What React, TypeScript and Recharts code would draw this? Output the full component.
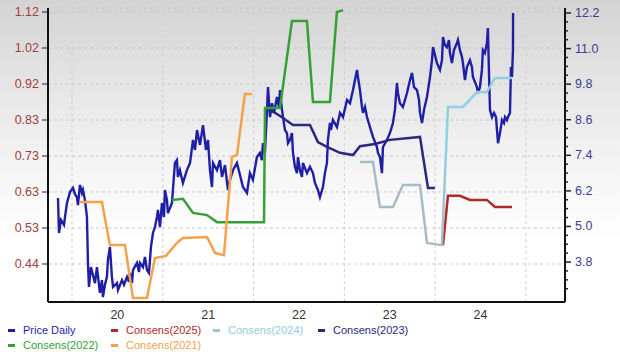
import { ComposedChart, Line, XAxis, YAxis, CartesianGrid, ReferenceLine } from "recharts";

// x axis: decimal years, labels centred inside each year
const years = [2020, 2021, 2022, 2023, 2024];
const yearLabels = ["20", "21", "22", "23", "24"];
const yearBounds = [2020, 2021, 2022, 2023, 2024, 2025];

// left axis (consensus EPS) and right axis (price)
const epsTickLabels = ["0.44", "0.53", "0.63", "0.73", "0.83", "0.92", "1.02", "1.12"];
const priceMajorTicks = [3.8, 5.0, 6.2, 7.4, 8.6, 9.8, 11.0, 12.2];

// [decimal year, price]
const priceDaily: [number, number][] = [
  [2019.846, 5.96], [2019.857, 4.78], [2019.879, 5.22], [2019.912, 5.05], [2019.934, 5.56], [2019.945, 5.79],
  [2019.978, 6.16], [2020.011, 6.3], [2020.033, 6.09], [2020.055, 5.99], [2020.066, 5.72], [2020.088, 6.4],
  [2020.11, 6.13], [2020.121, 6.23], [2020.143, 5.89], [2020.165, 5.32], [2020.176, 3.77], [2020.187, 2.96],
  [2020.209, 3.63], [2020.231, 3.36], [2020.253, 3.09], [2020.275, 3.63], [2020.308, 2.76], [2020.33, 3.19],
  [2020.341, 2.62], [2020.363, 3.03], [2020.385, 3.3], [2020.396, 3.87], [2020.418, 4.31], [2020.44, 3.3],
  [2020.452, 2.96], [2020.496, 3.09], [2020.507, 2.86], [2020.551, 3.19], [2020.573, 3.03], [2020.606, 3.3],
  [2020.628, 3.13], [2020.639, 3.43], [2020.661, 3.09], [2020.672, 3.53], [2020.716, 3.77], [2020.738, 3.46],
  [2020.749, 3.77], [2020.782, 3.63], [2020.804, 3.97], [2020.826, 3.53], [2020.848, 3.43], [2020.87, 4.31],
  [2020.892, 4.78], [2020.914, 4.98], [2020.936, 5.32], [2020.947, 5.56], [2020.969, 4.98], [2020.991, 5.79],
  [2021.013, 5.32], [2021.024, 6.23], [2021.046, 5.89], [2021.057, 5.45], [2021.101, 5.79], [2021.112, 6.23],
  [2021.134, 7.14], [2021.156, 7.24], [2021.167, 6.67], [2021.189, 6.9], [2021.222, 6.47], [2021.266, 6.9],
  [2021.3, 7.14], [2021.333, 7.92], [2021.355, 7.58], [2021.377, 8.25], [2021.41, 7.75], [2021.443, 8.42],
  [2021.476, 7.58], [2021.498, 7.92], [2021.52, 6.9], [2021.542, 6.33], [2021.553, 7.14], [2021.597, 6.9],
  [2021.63, 7.24], [2021.652, 6.67], [2021.685, 7.07], [2021.718, 6.23], [2021.74, 6.57], [2021.773, 6.9],
  [2021.817, 7.14], [2021.85, 6.74], [2021.883, 6.33], [2021.927, 6.13], [2021.96, 6.8], [2021.993, 6.57],
  [2022.037, 7.34], [2022.07, 7.48], [2022.092, 7.24], [2022.103, 7.81], [2022.125, 7.48], [2022.148, 8.93],
  [2022.159, 9.7], [2022.181, 8.69], [2022.203, 9.16], [2022.225, 8.83], [2022.258, 9.37], [2022.28, 9.03],
  [2022.291, 9.6], [2022.313, 8.93], [2022.324, 8.69], [2022.346, 8.25], [2022.368, 8.15], [2022.379, 7.81],
  [2022.401, 7.92], [2022.423, 8.15], [2022.434, 7.48], [2022.456, 7.01], [2022.478, 6.8], [2022.489, 7.34],
  [2022.511, 6.9], [2022.533, 6.67], [2022.544, 7.14], [2022.588, 6.8], [2022.621, 7.01], [2022.654, 6.8],
  [2022.676, 6.47], [2022.709, 6.23], [2022.731, 5.99], [2022.764, 6.33], [2022.786, 6.8], [2022.808, 7.14],
  [2022.819, 7.92], [2022.841, 8.49], [2022.852, 8.25], [2022.874, 8.59], [2022.918, 8.35], [2022.952, 8.83],
  [2022.985, 8.69], [2023.029, 9.27], [2023.062, 9.16], [2023.095, 9.6], [2023.139, 10.28], [2023.15, 10.04],
  [2023.172, 9.6], [2023.194, 9.03], [2023.205, 8.83], [2023.227, 9.03], [2023.249, 8.69], [2023.282, 8.35],
  [2023.315, 8.02], [2023.359, 7.68], [2023.37, 7.48], [2023.392, 7.34], [2023.414, 6.8], [2023.425, 7.68],
  [2023.469, 7.92], [2023.502, 8.15], [2023.535, 8.49], [2023.557, 8.93], [2023.579, 9.84], [2023.59, 9.5],
  [2023.612, 9.16], [2023.645, 9.03], [2023.69, 9.5], [2023.723, 9.94], [2023.745, 10.18], [2023.767, 9.7],
  [2023.8, 9.6], [2023.822, 9.27], [2023.833, 8.83], [2023.855, 8.49], [2023.877, 8.93], [2023.91, 9.37],
  [2023.943, 10.04], [2023.965, 10.61], [2023.976, 11.05], [2023.998, 10.78], [2024.02, 10.51], [2024.053, 10.28],
  [2024.075, 10.61], [2024.086, 11.39], [2024.108, 11.12], [2024.13, 11.05], [2024.152, 11.29], [2024.163, 10.85],
  [2024.185, 10.51], [2024.207, 10.95], [2024.24, 11.19], [2024.251, 11.29], [2024.273, 10.95], [2024.295, 10.72],
  [2024.306, 10.51], [2024.328, 9.94], [2024.35, 10.38], [2024.383, 10.61], [2024.405, 10.38], [2024.416, 10.04],
  [2024.46, 9.7], [2024.471, 9.5], [2024.493, 9.7], [2024.515, 10.28], [2024.526, 10.95], [2024.548, 10.85],
  [2024.57, 11.19], [2024.581, 11.69], [2024.592, 10.28], [2024.604, 8.93], [2024.626, 8.69], [2024.648, 8.83],
  [2024.67, 8.69], [2024.681, 8.25], [2024.692, 7.81], [2024.714, 8.15], [2024.736, 8.59], [2024.758, 8.49],
  [2024.769, 8.69], [2024.791, 8.59], [2024.802, 8.69], [2024.824, 8.83], [2024.835, 10.38], [2024.846, 10.04],
  [2024.857, 10.95], [2024.858, 12.2],
];

// [decimal year, consensus EPS]
const consens2025: [number, number][] = [
  [2024.086, 0.491], [2024.141, 0.624], [2024.273, 0.624], [2024.383, 0.613], [2024.57, 0.613],
  [2024.659, 0.594], [2024.846, 0.594],
];
const consens2024: [number, number][] = [
  [2023.172, 0.715], [2023.315, 0.715], [2023.392, 0.594], [2023.535, 0.594], [2023.645, 0.653],
  [2023.833, 0.653], [2023.91, 0.497], [2024.075, 0.491], [2024.141, 0.864], [2024.306, 0.864],
  [2024.46, 0.904], [2024.57, 0.904], [2024.659, 0.942], [2024.846, 0.942],
];
const consens2023: [number, number][] = [
  [2022.148, 0.861], [2022.236, 0.848], [2022.324, 0.834], [2022.434, 0.815], [2022.621, 0.815],
  [2022.709, 0.769], [2022.808, 0.756], [2022.952, 0.74], [2023.095, 0.734], [2023.172, 0.758],
  [2023.337, 0.764], [2023.502, 0.775], [2023.833, 0.783], [2023.921, 0.645], [2023.998, 0.645],
];
const consens2022: [number, number][] = [
  [2021.101, 0.613], [2021.222, 0.616], [2021.333, 0.578], [2021.487, 0.572], [2021.597, 0.553],
  [2022.115, 0.553], [2022.126, 0.861], [2022.291, 0.861], [2022.423, 1.096], [2022.588, 1.096],
  [2022.654, 0.877], [2022.841, 0.877], [2022.918, 1.12], [2022.985, 1.125],
];
const consens2021: [number, number][] = [
  [2020.088, 0.607], [2020.33, 0.607], [2020.418, 0.491], [2020.584, 0.491], [2020.672, 0.348],
  [2020.826, 0.348], [2020.914, 0.456], [2021.035, 0.462], [2021.156, 0.497], [2021.222, 0.51],
  [2021.487, 0.513], [2021.575, 0.47], [2021.674, 0.464], [2021.762, 0.729], [2021.817, 0.734],
  [2021.905, 0.899], [2021.982, 0.899],
];

const toPoints = (rows: [number, number][]) => rows.map(([t, v]) => ({ t, v }));

const series = [
  { name: "Price Daily", color: "#1f1fa6", rows: priceDaily, axis: "price", width: 2.4 },
  { name: "Consens(2025)", color: "#b02a2a", rows: consens2025, axis: "eps", width: 2.5 },
  { name: "Consens(2024)", color: "#96cadb", rows: consens2024, axis: "eps", width: 2.5 },
  { name: "Consens(2023)", color: "#28287e", rows: consens2023, axis: "eps", width: 2.5 },
  { name: "Consens(2022)", color: "#35a035", rows: consens2022, axis: "eps", width: 2.5 },
  { name: "Consens(2021)", color: "#f2a24a", rows: consens2021, axis: "eps", width: 2.5 },
];

const epsLo = Number(epsTickLabels[0]);
const epsHi = Number(epsTickLabels[epsTickLabels.length - 1]);
const epsTicks = epsTickLabels.map((_, i) => epsLo + (i * (epsHi - epsLo)) / (epsTickLabels.length - 1));
const priceTicks = priceMajorTicks.flatMap((m) => [m, m - 0.3, m - 0.6, m - 0.9]).sort((a, b) => a - b);

function PriceTick(props: any) {
  const { x, y, payload } = props;
  const major = priceMajorTicks.some((m) => Math.abs(m - payload.value) < 1e-6);
  const x0 = x - 8;
  return (
    <g>
      <line x1={x0} y1={y} x2={x0 + (major ? 6 : 3)} y2={y} stroke="#222" strokeWidth={1.5} />
      {major && (
        <text x={x + 2} y={y} dy={4} fill="#3d3d8f" fontSize={12.5}>
          {payload.value.toFixed(1)}
        </text>
      )}
    </g>
  );
}

const legendRows = [
  [0, 1, 2, 3],
  [4, 5],
];
const legendX = [8, 111, 213, 318];

export default function App() {
  return (
    <div
      style={{
        position: "absolute",
        left: 0,
        top: 0,
        width: 620,
        height: 355,
        fontFamily: "'Liberation Sans', Arial, sans-serif",
        background: "linear-gradient(to bottom, #d3d3d3 0%, #e6e6e6 25%, #f6f6f6 50%, #ffffff 68%)",
      }}
    >
      <ComposedChart width={620} height={322} margin={{ top: 8, right: 0, bottom: 0, left: 0 }}>
        <defs>
          <linearGradient id="c2024" x1="0" y1="0" x2="1" y2="0">
            <stop offset="0.55" stopColor="#a8bcc7" />
            <stop offset="0.56" stopColor="#8fd0e3" />
          </linearGradient>
        </defs>
        <CartesianGrid yAxisId="eps" vertical={false} stroke="#c9c9c9" strokeDasharray="3 3" />
        {yearBounds.map((y) => (
          <ReferenceLine key={y} x={y} yAxisId="eps" stroke="#cfcfcf" strokeDasharray="3 3" />
        ))}
        <XAxis
          dataKey="t"
          type="number"
          domain={[2019.736, 2025.43]}
          ticks={years.map((y) => y + 0.5)}
          tickFormatter={(v: number) => yearLabels[years.indexOf(Math.floor(v))]}
          interval={0}
          allowDataOverflow
          height={20}
          tickLine={false}
          axisLine={{ stroke: "#111", strokeWidth: 2 }}
          tick={{ fill: "#333", fontSize: 12.5 }}
        />
        <YAxis
          yAxisId="eps"
          orientation="left"
          width={48}
          type="number"
          domain={[0.3375, 1.1308]}
          allowDataOverflow
          ticks={epsTicks}
          interval={0}
          tickFormatter={(v: number) => epsTickLabels[epsTicks.indexOf(v)] ?? v.toFixed(2)}
          tickSize={6}
          tickMargin={3}
          axisLine={{ stroke: "#111", strokeWidth: 2 }}
          tickLine={{ stroke: "#222" }}
          tick={{ fill: "#a33d3d", fontSize: 12.5 }}
        />
        <YAxis
          yAxisId="price"
          orientation="right"
          width={55}
          type="number"
          domain={[2.452, 12.369]}
          allowDataOverflow
          ticks={priceTicks}
          interval={0}
          tickSize={6}
          tickMargin={2}
          tickLine={false}
          axisLine={{ stroke: "#111", strokeWidth: 2 }}
          tick={<PriceTick />}
        />
        {series.map((s) => (
          <Line
            key={s.name}
            yAxisId={s.axis}
            data={toPoints(s.rows)}
            dataKey="v"
            name={s.name}
            type="linear"
            stroke={s.name === "Consens(2024)" ? "url(#c2024)" : s.color}
            strokeWidth={s.width}
            dot={false}
            activeDot={false}
            isAnimationActive={false}
          />
        ))}
      </ComposedChart>
      {legendRows.map((row, r) =>
        row.map((idx, c) => {
          const s = series[idx];
          return (
            <div
              key={s.name}
              style={{
                position: "absolute",
                left: legendX[c],
                top: 324 + r * 15,
                display: "flex",
                alignItems: "center",
                fontSize: 11,
                color: s.color,
                whiteSpace: "nowrap",
              }}
            >
              <span style={{ display: "inline-block", width: 7, height: 3, background: s.color, marginRight: 8 }} />
              {s.name}
            </div>
          );
        })
      )}
    </div>
  );
}
